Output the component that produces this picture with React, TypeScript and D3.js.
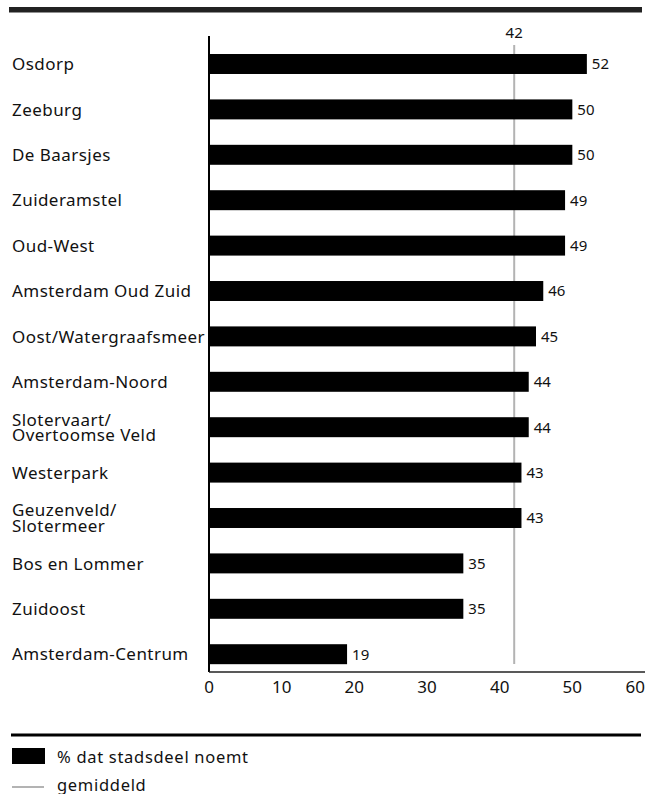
import React from 'react';
import * as d3 from 'd3';

const categories = [
  'Osdorp',
  'Zeeburg',
  'De Baarsjes',
  'Zuideramstel',
  'Oud-West',
  'Amsterdam Oud Zuid',
  'Oost/Watergraafsmeer',
  'Amsterdam-Noord',
  'Slotervaart/\nOvertoomse Veld',
  'Westerpark',
  'Geuzenveld/\nSlotermeer',
  'Bos en Lommer',
  'Zuidoost',
  'Amsterdam-Centrum',
];
const values = [52, 50, 50, 49, 49, 46, 45, 44, 44, 43, 43, 35, 35, 19];
const average = 42;
const xTicks = [0, 10, 20, 30, 40, 50, 60];
const legendLabels = ['% dat stadsdeel noemt', 'gemiddeld'];

const FONT = "'Noto Sans', sans-serif";

export default function App() {
  const W = 648;
  const H = 794;
  const x = d3.scaleLinear().domain([0, 60]).range([209, 645]);
  const y = d3
    .scaleBand<string>()
    .domain(categories)
    .range([41.3, 676.9])
    .paddingInner(0.56)
    .paddingOuter(0.28);
  const bw = y.bandwidth();
  const axisY = 672;

  return (
    <svg
      width={W}
      height={H}
      style={{ position: 'absolute', left: 0, top: 0, background: '#fff' }}
      fontFamily={FONT}
    >
      <rect x={0} y={0} width={W} height={H} fill="#fff" />
      {/* top rule */}
      <rect x={9} y={7} width={633} height={5.5} fill="#222" />

      {/* average line */}
      <line x1={x(average)} x2={x(average)} y1={45} y2={664} stroke="#b3b3b3" strokeWidth={2} />
      <text x={x(average)} y={38} textAnchor="middle" fontSize={15} fill="#111">
        {average}
      </text>

      {/* bars */}
      {categories.map((c, i) => (
        <g key={c}>
          <rect x={x(0)} y={y(c)!} width={x(values[i]) - x(0)} height={bw} fill="#000" />
          <text
            x={x(values[i]) + 5}
            y={y(c)! + bw / 2}
            dy="0.36em"
            fontSize={15}
            fill="#111"
          >
            {values[i]}
          </text>
        </g>
      ))}

      {/* category labels */}
      {categories.map((c) => {
        const lines = c.split('\n');
        const cy = y(c)! + bw / 2;
        const lh = 15.5;
        const start = cy - ((lines.length - 1) * lh) / 2;
        return (
          <text key={'l' + c} x={12} fontSize={17} letterSpacing={0.45} fill="#111">
            {lines.map((ln, j) => (
              <tspan key={j} x={12} y={start + j * lh} dy="0.36em">
                {ln}
              </tspan>
            ))}
          </text>
        );
      })}

      {/* axes */}
      <line x1={x(0)} x2={x(0)} y1={36} y2={axisY} stroke="#000" strokeWidth={2} />
      <line x1={x(0)} x2={x(60)} y1={axisY} y2={axisY} stroke="#222" strokeWidth={1.5} />
      {xTicks.map((t, i) => (
        <text
          key={'t' + t}
          x={x(t)}
          y={693}
          textAnchor={i === xTicks.length - 1 ? 'end' : 'middle'}
          fontSize={17}
          fill="#111"
        >
          {t}
        </text>
      ))}

      {/* legend */}
      <line x1={11} x2={641} y1={735} y2={735} stroke="#000" strokeWidth={3} />
      <rect x={12} y={748} width={33} height={16} fill="#000" />
      <text x={57} y={763} fontSize={16.5} letterSpacing={0.7} fill="#111">
        {legendLabels[0]}
      </text>
      <line x1={12} x2={44} y1={787} y2={787} stroke="#b3b3b3" strokeWidth={2} />
      <text x={57} y={791} fontSize={16.5} letterSpacing={0.7} fill="#111">
        {legendLabels[1]}
      </text>
    </svg>
  );
}
